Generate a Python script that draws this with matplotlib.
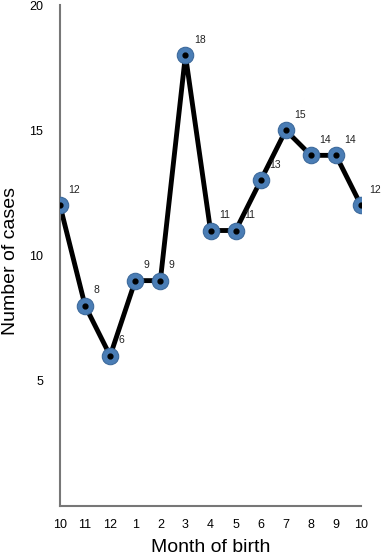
import matplotlib
matplotlib.use("Agg")
import matplotlib.pyplot as plt
import numpy as np

months = ["10", "11", "12", "1", "2", "3", "4", "5", "6", "7", "8", "9", "10"]
cases = [12, 8, 6, 9, 9, 18, 11, 11, 13, 15, 14, 14, 12]

plt.rcParams['font.family'] = ['Liberation Sans', 'DejaVu Sans']

fig = plt.figure(figsize=(3.87, 5.58), dpi=100)
ax = fig.add_axes([0.155, 0.093, 0.778, 0.898])

x = np.arange(len(months))
ax.plot(x, cases, color="black", lw=3.5, zorder=2)
ax.scatter(x, cases, s=140, color="#4a7db5", edgecolors="#3d6a9c", linewidths=0.8, zorder=3)
ax.scatter(x, cases, s=12, color="black", zorder=4)

for xi, yi in zip(x, cases):
    ax.annotate(str(yi), (xi, yi), xytext=(6, 9), textcoords="offset points",
                fontsize=7.5, color="#222222")

ax.set_xlim(0, 12)
ax.set_ylim(0, 20)
ax.set_xticks(x)
ax.set_xticklabels(months)
ax.set_yticks([5, 10, 15, 20])
ax.tick_params(length=0, labelsize=9)
ax.tick_params(axis="x", pad=9)
ax.tick_params(axis="y", pad=12)

for s in ["top", "right"]:
    ax.spines[s].set_visible(False)
for s in ["left", "bottom"]:
    ax.spines[s].set_color("#777777")
    ax.spines[s].set_linewidth(1.5)

ax.set_xlabel("Month of birth", fontsize=14, labelpad=6)
ax.set_ylabel("Number of cases", fontsize=14)
ax.yaxis.set_label_coords(-0.136, 0.49)

fig.savefig("out.png", dpi=100)
